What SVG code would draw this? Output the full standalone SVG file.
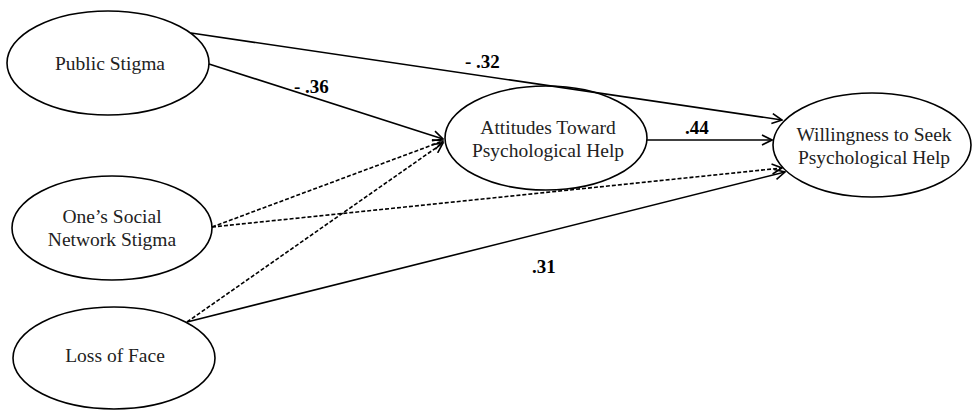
<svg xmlns="http://www.w3.org/2000/svg" width="973" height="410" viewBox="0 0 973 410">
<style>
.node ellipse{fill:none;stroke:#000;stroke-width:1.6}
.node text{font-family:"Liberation Serif","Times New Roman",serif;font-size:19.5px;fill:#222;text-anchor:middle}
.lbl{font-family:"Liberation Serif","Times New Roman",serif;font-size:19px;font-weight:bold;fill:#000}
.c{stroke:#000;stroke-width:1.6;fill:none;marker-end:url(#arr)}
.d{stroke-dasharray:4 2}
</style>
<defs>
<marker id="arr" viewBox="0 0 12 12" refX="11" refY="6" markerWidth="12" markerHeight="12" markerUnits="userSpaceOnUse" orient="auto">
<path d="M1,1 L11,6 L1,11" fill="none" stroke="#000" stroke-width="1.6"/>
</marker>
</defs>
<rect width="973" height="410" fill="#fff"/>
<g id="public-stigma" class="node">
<ellipse cx="108" cy="63" rx="101" ry="52"/>
<text x="110" y="70">Public Stigma</text>
</g>
<g id="attitudes" class="node">
<ellipse cx="546" cy="138" rx="101" ry="52"/>
<text x="548" y="134">Attitudes Toward</text>
<text x="548" y="157">Psychological Help</text>
</g>
<g id="willingness" class="node">
<ellipse cx="872" cy="145" rx="99" ry="52"/>
<text x="874" y="141">Willingness to Seek</text>
<text x="874" y="164">Psychological Help</text>
</g>
<g id="social-network" class="node">
<ellipse cx="112" cy="228" rx="100" ry="52"/>
<text x="112" y="223">One’s Social</text>
<text x="112" y="246">Network Stigma</text>
</g>
<g id="loss-of-face" class="node">
<ellipse cx="114" cy="358" rx="101" ry="51"/>
<text x="115" y="362">Loss of Face</text>
</g>
<g id="connectors">
<line class="c" x1="191" y1="33" x2="782" y2="120"/>
<line class="c" x1="209" y1="64" x2="443" y2="139"/>
<line class="c" x1="647" y1="140" x2="772" y2="140"/>
<line class="c d" x1="212" y1="227" x2="443" y2="141"/>
<line class="c d" x1="212" y1="227" x2="782" y2="168"/>
<line class="c d" x1="187" y1="322" x2="443" y2="143"/>
<line class="c" x1="187" y1="322" x2="785" y2="172"/>
</g>
<g id="labels">
<text class="lbl" x="465" y="68">- .32</text>
<text class="lbl" x="294" y="93">- .36</text>
<text class="lbl" x="685" y="134">.44</text>
<text class="lbl" x="532" y="273">.31</text>
</g>
</svg>
